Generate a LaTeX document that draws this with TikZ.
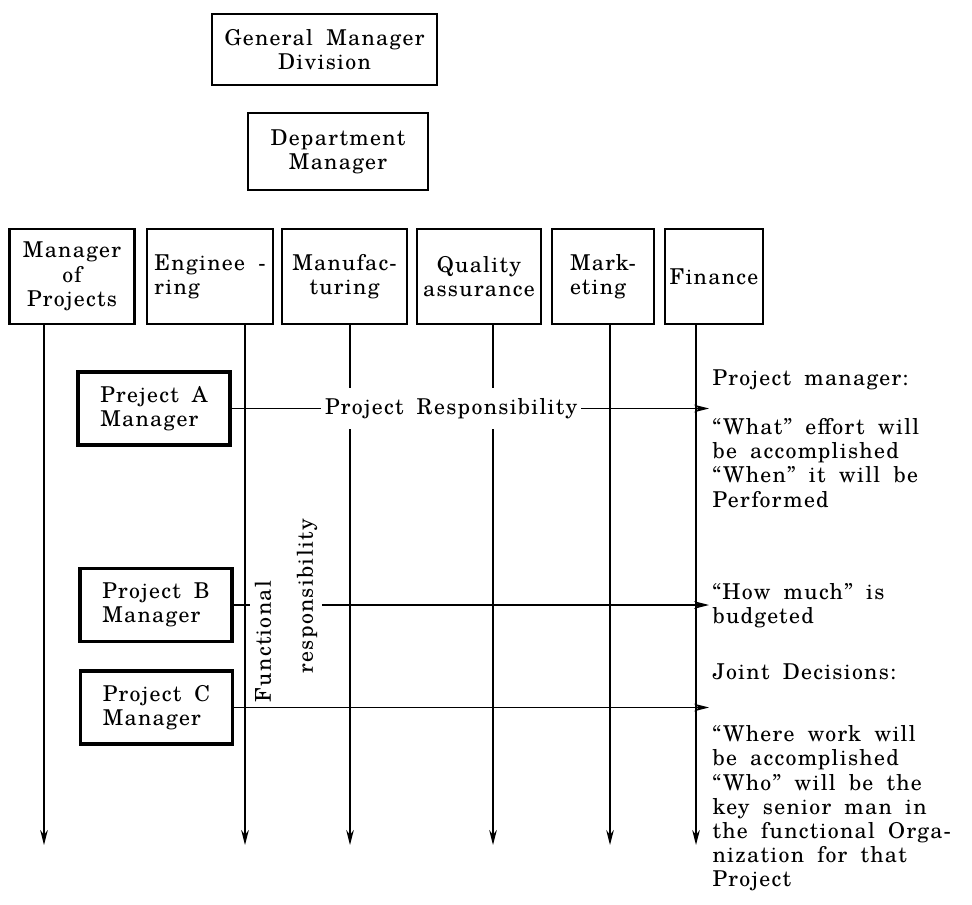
\documentclass[tikz,border=0pt]{standalone}
\usepackage{fontspec}
\setmainfont{texgyreschola-regular}[Extension=.otf, LetterSpace=6, WordSpace=1.8]
\usetikzlibrary{arrows.meta}

\tikzset{
  topbox/.style={draw, line width=1.1pt, align=center, inner sep=2pt},
  rowbox/.style={draw, line width=1.1pt, align=center, minimum height=47.5pt, inner sep=2pt},
  projbox/.style={draw, line width=1.6pt, align=left, minimum width=76pt, minimum height=36.5pt},
  flow/.style={-{Stealth[length=7.5pt,width=3.8pt]}, line width=0.7pt},
  note/.style={align=left, anchor=west, inner sep=0pt},
}

\begin{document}
\begin{tikzpicture}[x=0.5pt, y=-0.5pt, line width=0.6pt, font=\fontsize{10.9}{12.1}\selectfont]
	\useasboundingbox (0,0) rectangle (972,904);
	% line organisation
	\node[topbox, minimum width=112.5pt, minimum height=35.5pt] (gm) at (324.5,49.5) {General Manager\\Division};
	\node[topbox, minimum width=90pt, minimum height=38.5pt] (dm) at (338,151.5) {Department\\Manager};
	% functional departments
	\node[rowbox, minimum width=62.5pt] (mp) at (72,276.5) {Manager\\of\\Projects};
	\node[rowbox, minimum width=63pt, align=left] (eng) at (210,276.5) {Enginee -\\ring};
	\node[rowbox, minimum width=62.5pt] (man) at (344.5,276.5) {Manufac-\\turing};
	\node[rowbox, minimum width=62pt] (qa) at (479,276.5) {Quality\\assurance};
	\node[rowbox, minimum width=51pt, align=left] (mkt) at (603,276.5) {Mark-\\eting};
	\node[rowbox, minimum width=49pt] (fin) at (714,276.5) {Finance};
	\foreach \dept/\x in {mp/44, eng/245, man/350, qa/493, mkt/610, fin/696} {
		\coordinate (\dept-end) at (\x,845);
		\draw[flow] (\dept-end |- \dept.south) -- (\dept-end);
	}
	% project managers
	\node[projbox] (pa) at (154,408.5) {Preject A\\Manager};
	\node[projbox] (pb) at (156,605) {Project B\\Manager};
	\node[projbox] (pc) at (156.5,707.5) {Project C\\Manager};
	\coordinate (tip) at (709,0);
	\node[rotate=90, anchor=west, inner sep=1pt] (func) at (263,705) {Functional};
	\node[rotate=90, anchor=west, inner sep=2pt] (resp) at (307,678) {responsibility};
	\draw[flow] (pa.east) -- node[pos=0.46, fill=white, inner xsep=2pt, inner ysep=5pt] (prlabel) {Project Responsibility} (pa.east -| tip);
	\draw (pb.east) -- ++(16,0);
	\draw[flow] (pb.east -| resp.south) -- (pb.east -| tip);
	\draw[flow] (pc.east) -- (pc.east -| tip);
	% notes on the right
	\node[note] (pmnote) at (712,380) {Project manager:};
	\node[note] (whatnote) at (712,463) {“What” effort will\\be accomplished\\“When” it will be\\Performed};
	\node[note] (hownote) at (712,605.5) {“How much” is\\budgeted};
	\node[note] (jointnote) at (712,672) {Joint Decisions:};
	\node[note] (wherenote) at (712,808.5) {“Where work will\\be accomplished\\“Who” will be the\\key senior man in\\the functional Orga-\\nization for that\\Project};
\end{tikzpicture}
\end{document}
